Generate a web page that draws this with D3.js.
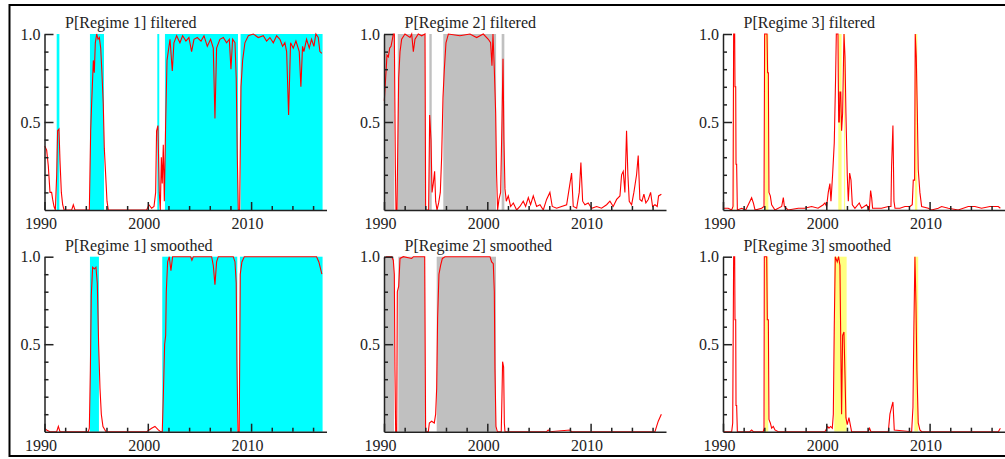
<!DOCTYPE html>
<html><head><meta charset="utf-8">
<script src="https://cdn.jsdelivr.net/npm/d3@7"></script>
<style>
html,body{margin:0;padding:0;background:#fff;}
svg{display:block;}
text{font-family:"Liberation Serif","Times New Roman",serif;fill:#222;}
</style></head>
<body>
<svg id="c" width="1005" height="459"></svg>
<script>
// ---------- DATA (year, probability) ----------
const titles = ["P[Regime 1] filtered","P[Regime 2] filtered","P[Regime 3] filtered",
                "P[Regime 1] smoothed","P[Regime 2] smoothed","P[Regime 3] smoothed"];
const xTickLabels = [1990, 2000, 2010];
const yTickLabels = [0.5, 1.0];

const r1Filtered = [[1990.0,0.36],[1990.05,0.36],[1990.21,0.34],[1990.37,0.25],[1990.53,0.1],[1990.69,0.1],[1990.79,0.06],[1990.92,0.02],[1991.05,0],[1991.18,0.2],[1991.27,0.45],[1991.4,0.46],[1991.5,0.28],[1991.63,0.1],[1991.76,0.03],[1991.89,0],[1992.63,0],[1992.79,0.03],[1992.95,0],[1994.34,0],[1994.47,0.45],[1994.56,0.6],[1994.73,0.85],[1994.82,0.78],[1994.92,0.95],[1995.05,1.0],[1995.18,0.97],[1995.31,0.98],[1995.44,0.92],[1995.56,0.78],[1995.69,0.6],[1995.79,0.35],[1995.92,0.2],[1996.05,0.05],[1996.18,0],[1999.89,0],[2000.11,0.03],[2000.37,0.01],[2000.6,0.02],[2000.76,0.1],[2000.85,0.45],[2000.98,0.48],[2001.11,0.1],[2001.21,0],[2001.31,0.3],[2001.4,0.15],[2001.5,0.37],[2001.6,0.05],[2001.73,0.5],[2001.86,0.85],[2001.98,0.9],[2002.15,0.97],[2002.37,0.79],[2002.53,0.95],[2002.79,0.99],[2003.11,0.95],[2003.37,0.99],[2003.69,0.96],[2003.98,0.98],[2004.24,0.9],[2004.47,0.97],[2004.79,0.98],[2005.15,0.96],[2005.44,0.99],[2005.76,0.93],[2006.08,0.97],[2006.34,0.92],[2006.5,0.52],[2006.66,0.92],[2006.98,0.97],[2007.31,0.98],[2007.63,0.95],[2007.89,0.97],[2008.05,0.8],[2008.21,0.97],[2008.44,0.95],[2008.56,0.75],[2008.66,0.32],[2008.76,0],[2008.89,0],[2009.02,0.7],[2009.18,0.85],[2009.4,0.95],[2009.73,0.99],[2010.21,1.0],[2010.69,0.98],[2011.18,0.99],[2011.5,0.96],[2011.82,0.98],[2012.15,0.95],[2012.47,0.99],[2012.79,0.97],[2013.05,0.93],[2013.27,0.95],[2013.44,0.9],[2013.63,0.54],[2013.82,0.95],[2014.08,0.92],[2014.34,0.96],[2014.66,0.9],[2014.82,0.7],[2014.98,0.93],[2015.11,0.9],[2015.37,0.97],[2015.63,0.92],[2015.85,0.97],[2016.08,0.93],[2016.27,1.0],[2016.5,0.98],[2016.66,0.9],[2016.85,0.89]];
const r1FilteredBands = [[1991.18,1991.44],[1994.4,1995.76],[2000.92,2001.11],[2001.66,2008.73],[2008.98,2016.92]];

const r2Filtered = [[1990.0,0.62],[1990.03,0.62],[1990.16,0.75],[1990.29,0.88],[1990.42,0.87],[1990.55,0.92],[1990.68,0.93],[1990.81,0.97],[1990.9,1.0],[1991.0,1.0],[1991.1,0.25],[1991.16,0],[1991.26,0],[1991.32,0.3],[1991.42,0.75],[1991.55,0.9],[1991.71,0.97],[1992.03,1.0],[1992.52,0.98],[1992.68,1.0],[1992.84,0.9],[1993.0,0.97],[1993.32,1.0],[1993.65,0.99],[1993.97,1.0],[1994.03,0],[1994.32,0],[1994.42,0.54],[1994.55,0.4],[1994.65,0.1],[1994.77,0.15],[1994.9,0.22],[1995.0,0.05],[1995.13,0],[1995.29,0.04],[1995.45,0.1],[1995.58,0.3],[1995.71,0.64],[1995.84,0.8],[1996.0,0.95],[1996.23,1.0],[1997.35,0.99],[1998.32,1.0],[1998.97,0.98],[1999.61,1.0],[2000.1,0.97],[2000.32,0.95],[2000.45,0.82],[2000.55,1.0],[2000.68,0.8],[2000.81,0.55],[2000.9,0.2],[2001.0,0],[2001.13,0.06],[2001.29,0.1],[2001.42,0.5],[2001.52,0.86],[2001.61,0.4],[2001.71,0.12],[2001.84,0.05],[2002.03,0.08],[2002.26,0.02],[2002.52,0.04],[2002.84,0],[2003.16,0.02],[2003.48,0.05],[2003.71,0.02],[2003.97,0.07],[2004.19,0.03],[2004.45,0.08],[2004.77,0.02],[2005.1,0.03],[2005.42,0],[2005.74,0.06],[2006.06,0.1],[2006.29,0.02],[2006.71,0.01],[2007.19,0.02],[2007.68,0.03],[2008.0,0.15],[2008.16,0.21],[2008.32,0.02],[2008.65,0.01],[2008.9,0.1],[2009.06,0.27],[2009.23,0.05],[2009.45,0.03],[2009.77,0.04],[2010.1,0.01],[2010.58,0.02],[2011.06,0.01],[2011.55,0.03],[2011.87,0.05],[2012.19,0.02],[2012.52,0.06],[2012.84,0.08],[2013.0,0.2],[2013.16,0.22],[2013.32,0.1],[2013.48,0.45],[2013.61,0.2],[2013.74,0.05],[2013.97,0.03],[2014.19,0.1],[2014.45,0.2],[2014.61,0.31],[2014.77,0.06],[2014.97,0.05],[2015.16,0.09],[2015.35,0.04],[2015.58,0.06],[2015.81,0.1],[2016.0,0.02],[2016.23,0.03],[2016.45,0.02],[2016.58,0.08],[2016.85,0.09]];
const r2FilteredBands = [[1990.0,1991.0],[1991.33,1993.97],[1994.39,1994.62],[1995.74,2000.85],[2001.39,2001.65]];

const r3Filtered = [[1990.0,0.01],[1990.5,0.01],[1990.84,0],[1990.97,0.02],[1991.03,1.0],[1991.13,1.0],[1991.16,0.7],[1991.23,0.7],[1991.26,0.26],[1991.32,0.26],[1991.39,0],[1991.81,0.01],[1992.2,0],[1992.61,0.05],[1992.77,0.07],[1992.94,0.04],[1993.1,0],[1993.74,0.01],[1993.97,0.02],[1994.03,1.0],[1994.26,1.0],[1994.32,0.78],[1994.39,0.78],[1994.45,0.1],[1994.58,0.08],[1994.71,0.03],[1995.03,0],[1995.68,0.02],[1995.84,0.07],[1995.94,0.02],[1996.3,0],[1997.29,0.01],[1997.9,0.01],[1998.58,0.02],[1999.2,0.01],[1999.71,0.03],[1999.87,0.04],[2000.03,0.02],[2000.19,0.1],[2000.35,0.15],[2000.45,0.05],[2000.61,0.2],[2000.77,0.38],[2000.9,0.75],[2000.97,1.0],[2001.13,1.0],[2001.16,0.75],[2001.2,0.5],[2001.26,0.5],[2001.32,0.67],[2001.4,0.67],[2001.48,0.45],[2001.58,0.55],[2001.71,1.0],[2001.81,0.87],[2001.9,0.55],[2002.03,0.2],[2002.13,0.05],[2002.26,0.21],[2002.39,0.17],[2002.52,0.03],[2002.77,0.01],[2003.19,0.04],[2003.42,0.01],[2003.9,0.03],[2004.16,0],[2004.29,0.11],[2004.39,0.07],[2004.48,0.01],[2005.35,0.01],[2006.0,0.02],[2006.26,0.02],[2006.32,0.25],[2006.45,0.48],[2006.55,0.05],[2006.65,0.01],[2007.13,0.01],[2007.61,0.02],[2008.1,0.02],[2008.32,0.03],[2008.42,0.17],[2008.55,0.17],[2008.61,1.0],[2008.71,0.87],[2008.81,0.56],[2008.9,0.23],[2009.06,0.1],[2009.23,0.02],[2009.87,0.01],[2010.19,0],[2010.84,0.01],[2011.16,0.02],[2011.81,0.01],[2012.77,0],[2013.74,0.02],[2014.39,0.02],[2015.03,0.01],[2015.84,0.02],[2016.65,0.02],[2016.85,0.01]];
const r3FilteredBands = [[1991.03,1991.1],[1994.06,1994.39],[2001.16,2001.48],[2001.71,2001.82],[2008.58,2008.81]];

const r1Smoothed = [[1990.0,0.02],[1990.2,0.01],[1990.53,0],[1991.18,0],[1991.34,0.03],[1991.5,0],[1994.24,0],[1994.34,0.02],[1994.44,0.35],[1994.53,0.78],[1994.66,0.94],[1994.82,0.93],[1994.98,0.94],[1995.11,0.85],[1995.24,0.5],[1995.37,0.25],[1995.5,0.1],[1995.66,0.03],[1995.95,0],[1999.89,0],[2000.37,0.02],[2000.69,0.03],[2001.02,0.01],[2001.24,0],[2001.4,0],[2001.5,0.2],[2001.63,0.5],[2001.73,0.55],[2001.79,0.8],[2001.92,0.97],[2002.08,1.0],[2002.24,0.92],[2002.4,1.0],[2004.15,1.0],[2004.27,0.98],[2004.4,1.0],[2006.18,1.0],[2006.34,0.95],[2006.5,0.84],[2006.66,0.97],[2006.82,1.0],[2008.27,1.0],[2008.44,0.97],[2008.56,0.85],[2008.63,0.4],[2008.73,0],[2008.85,0],[2008.95,0.9],[2009.11,0.97],[2009.34,1.0],[2016.34,1.0],[2016.56,0.97],[2016.85,0.9]];
const r1SmoothedBands = [[1994.4,1995.27],[2001.4,2008.66],[2008.92,2016.92]];

const r2Smoothed = [[1990.0,0.99],[1990.25,1.0],[1990.74,1.0],[1990.9,0.98],[1991.0,0.9],[1991.06,0.35],[1991.13,0],[1991.23,0],[1991.29,0.8],[1991.42,0.83],[1991.55,0.99],[1991.87,1.0],[1992.68,0.99],[1992.85,1.0],[1993.94,1.0],[1994.03,0],[1994.29,0],[1994.39,0.05],[1994.61,0.06],[1994.87,0.05],[1995.0,0.1],[1995.1,0.25],[1995.19,0.65],[1995.32,0.9],[1995.48,0.95],[1995.65,0.99],[1995.9,1.0],[2000.26,1.0],[2000.42,0.97],[2000.58,0.96],[2000.68,0.8],[2000.74,0.36],[2000.84,0.03],[2000.97,0],[2001.35,0],[2001.42,0.2],[2001.48,0.4],[2001.58,0.37],[2001.65,0.05],[2001.71,0],[2005.74,0],[2005.9,0.01],[2006.05,0],[2008.0,0.01],[2008.15,0],[2016.23,0],[2016.39,0.03],[2016.55,0.06],[2016.85,0.1]];
const r2SmoothedBands = [[1990.0,1990.97],[1991.39,1993.97],[1995.1,2000.84]];

const r3Smoothed = [[1990.0,0],[1990.84,0],[1990.94,0.05],[1991.03,1.0],[1991.13,1.0],[1991.16,0.64],[1991.23,0.64],[1991.26,0.15],[1991.32,0.15],[1991.39,0],[1992.6,0],[1992.77,0.01],[1992.94,0],[1993.9,0],[1993.97,0.02],[1994.0,1.0],[1994.23,1.0],[1994.29,0.64],[1994.39,0.64],[1994.45,0.07],[1994.58,0.05],[1994.71,0.02],[1994.87,0.03],[1995.03,0.01],[1995.35,0],[1999.87,0],[2000.13,0.03],[2000.26,0.02],[2000.42,0.03],[2000.58,0.02],[2000.68,0.1],[2000.77,0.6],[2000.87,1.0],[2001.06,0.97],[2001.19,1.0],[2001.32,0.95],[2001.42,0.4],[2001.48,0.1],[2001.58,0.55],[2001.71,0.57],[2001.81,0.32],[2001.9,0.08],[2002.03,0.04],[2002.19,0.08],[2002.32,0.04],[2002.45,0],[2004.05,0],[2004.19,0.02],[2004.32,0],[2006.0,0],[2006.16,0.1],[2006.32,0.14],[2006.45,0.17],[2006.58,0.01],[2008.26,0],[2008.39,0.14],[2008.48,0.6],[2008.58,1.0],[2008.68,0.73],[2008.77,0.35],[2008.9,0.05],[2009.06,0.01],[2009.23,0],[2016.65,0],[2016.85,0.02]];
const r3SmoothedBands = [[1994.05,1994.38],[2000.77,2001.97],[2008.52,2008.9]];

// ---------- LAYOUT ----------
const series = [r1Filtered, r2Filtered, r3Filtered, r1Smoothed, r2Smoothed, r3Smoothed];
const bands  = [r1FilteredBands, r2FilteredBands, r3FilteredBands, r1SmoothedBands, r2SmoothedBands, r3SmoothedBands];
const bandColors = ["#00FFFF", "#C0C0C0", "#FFFF80"];
const colX = [44.5, 384, 723];
const rowTop = [34, 256.7], rowBot = [210, 431.7];
const pxPerYear = 10.33, xStart = 1990, xEnd = 2017.3;

const svg = d3.select("#c");
svg.append("rect").attr("x",9.5).attr("y",5).attr("width",1010).attr("height",451)
   .attr("fill","none").attr("stroke","#000").attr("stroke-width",2);

series.forEach((data, i) => {
  const col = i % 3, row = Math.floor(i / 3);
  const x0 = colX[col];
  const x = d3.scaleLinear().domain([xStart, xEnd]).range([x0, x0 + (xEnd - xStart) * pxPerYear]);
  const y = d3.scaleLinear().domain([0, 1]).range([rowBot[row], rowTop[row]]);
  const g = svg.append("g");

  g.selectAll("rect.band").data(bands[i]).join("rect").attr("class","band")
    .attr("x", d => x(d[0])).attr("width", d => x(d[1]) - x(d[0]))
    .attr("y", y(1)).attr("height", y(0) - y(1))
    .attr("fill", bandColors[col]);

  g.append("path").datum(data)
    .attr("fill","none").attr("stroke","#FF0000").attr("stroke-width",1.1)
    .attr("d", d3.line().x(d => x(d[0])).y(d => y(d[1])));

  // y axis: major ticks with labels, minor ticks
  const yMajor = d3.axisLeft(y).tickValues(yTickLabels).tickSize(-9).tickSizeOuter(0)
    .tickPadding(4).tickFormat(d3.format(".1f"));
  const yMinor = d3.axisLeft(y).tickValues([0.1,0.2,0.3,0.4,0.6,0.7,0.8,0.9]).tickSize(-4)
    .tickSizeOuter(0).tickFormat("");
  const ya = g.append("g").attr("transform",`translate(${x0},0)`).call(yMajor);
  const ym = g.append("g").attr("transform",`translate(${x0},0)`).call(yMinor);
  ym.select(".domain").remove();

  // x axis
  const evenYears = d3.range(1992, 2017, 2).filter(v => v % 10 !== 0);
  const xMajor = d3.axisBottom(x).tickValues(xTickLabels).tickSize(-8).tickSizeOuter(0)
    .tickPadding(8).tickFormat(d3.format("d"));
  const xMinor = d3.axisBottom(x).tickValues(evenYears).tickSize(-4).tickSizeOuter(0).tickFormat("");
  const xa = g.append("g").attr("transform",`translate(0,${rowBot[row]})`).call(xMajor);
  const xm = g.append("g").attr("transform",`translate(0,${rowBot[row]})`).call(xMinor);
  xm.select(".domain").remove();
  xa.selectAll("text").attr("dx", -4);

  [ya, ym, xa, xm].forEach(a => {
    a.selectAll("path, line").attr("stroke", "#222").attr("stroke-width", 1.5);
    a.selectAll("text").attr("font-size", 16).attr("fill", "#222")
      .style("font-family", '"Liberation Serif","Times New Roman",serif');
  });

  g.append("text").attr("x", x0 + 20.5).attr("y", rowTop[row] - 6)
    .attr("font-size", 16).text(titles[i]);
});
</script>
</body></html>
